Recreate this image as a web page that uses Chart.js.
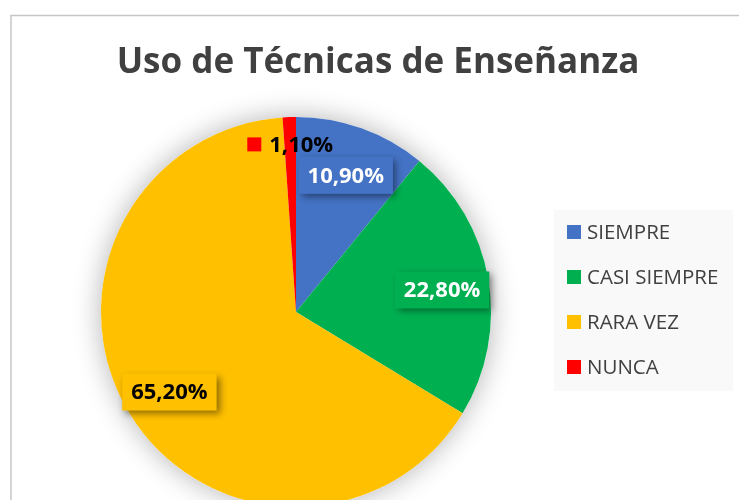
<!DOCTYPE html>
<html>
<head>
<meta charset="utf-8">
<script src="https://cdn.jsdelivr.net/npm/chart.js@4.4.1/dist/chart.umd.min.js"></script>
<style>
    html, body { margin: 0; padding: 0; background: #fff; overflow: hidden; }
    #wrap { position: relative; width: 739px; height: 500px; overflow: hidden; }
    canvas { display: block; }
</style>
</head>
<body>
<div id="wrap"><canvas id="pieChart" width="739" height="520"></canvas></div>
<script>
const chartTitle = 'Uso de Técnicas de Enseñanza';
const categories = ['SIEMPRE', 'CASI SIEMPRE', 'RARA VEZ', 'NUNCA'];
const percentages = [10.9, 22.8, 65.2, 1.1];
const sliceColors = ['#4472C4', '#00B050', '#FFC000', '#FF0000'];
const labelColors = ['#ffffff', '#ffffff', '#000000', '#000000'];

function formatPct(v) {
    return v.toFixed(2).replace('.', ',') + '%';
}

// white background + thin frame like the spreadsheet chart box
const framePlugin = {
    id: 'frame',
    beforeDraw(chart) {
        const ctx = chart.ctx;
        ctx.save();
        ctx.fillStyle = '#ffffff';
        ctx.fillRect(0, 0, chart.width, chart.height);
        ctx.strokeStyle = '#c6c6c6';
        ctx.lineWidth = 1.5;
        ctx.beginPath();
        ctx.moveTo(11, chart.height);
        ctx.lineTo(11, 15.5);
        ctx.lineTo(chart.width, 15.5);
        ctx.stroke();
        ctx.restore();
    }
};

const titlePlugin = {
    id: 'bigTitle',
    afterDraw(chart) {
        const ctx = chart.ctx;
        ctx.save();
        ctx.font = 'bold 35px "Open Sans"';
        ctx.fillStyle = '#404040';
        ctx.textAlign = 'center';
        ctx.textBaseline = 'middle';
        ctx.fillText(chartTitle, 378, 63);
        ctx.restore();
    }
};

// soft glow under the pie
const pieShadow = {
    id: 'pieShadow',
    beforeDatasetsDraw(chart) {
        const arc = chart.getDatasetMeta(0).data[0];
        if (!arc) return;
        const ctx = chart.ctx;
        ctx.save();
        ctx.shadowColor = 'rgba(0,0,0,0.3)';
        ctx.shadowBlur = 28;
        ctx.fillStyle = '#ffffff';
        ctx.beginPath();
        ctx.arc(arc.x, arc.y, arc.outerRadius, 0, Math.PI * 2);
        ctx.fill();
        ctx.restore();
    }
};

const pctLabels = {
    id: 'pctLabels',
    afterDatasetsDraw(chart) {
        const ctx = chart.ctx;
        const meta = chart.getDatasetMeta(0);
        ctx.save();
        ctx.font = 'bold 22px "Open Sans"';
        ctx.textBaseline = 'middle';
        meta.data.forEach((arc, i) => {
            const mid = (arc.startAngle + arc.endAngle) / 2;
            const txt = formatPct(percentages[i]);
            const tw = ctx.measureText(txt).width;
            if (percentages[i] < 5) {
                // tiny slice: label outside the wedge with its colour key
                const r = arc.outerRadius * 0.86;
                const cx = arc.x + Math.cos(mid) * r;
                const cy = arc.y + Math.sin(mid) * r;
                const total = 14 + 8 + tw;
                const left = cx - total / 2;
                ctx.fillStyle = sliceColors[i];
                ctx.fillRect(left, cy - 7, 14, 14);
                ctx.fillStyle = labelColors[i];
                ctx.textAlign = 'left';
                ctx.fillText(txt, left + 22, cy + 1);
                return;
            }
            const r = arc.outerRadius * 0.76;
            const cx = arc.x + Math.cos(mid) * r;
            const cy = arc.y + Math.sin(mid) * r + 3;
            const bw = tw + 18, bh = 37;
            ctx.save();
            ctx.shadowColor = 'rgba(0,0,0,0.45)';
            ctx.shadowBlur = 7;
            ctx.shadowOffsetX = 3;
            ctx.shadowOffsetY = 3;
            ctx.fillStyle = sliceColors[i];
            ctx.fillRect(cx - bw / 2, cy - bh / 2, bw, bh);
            ctx.restore();
            ctx.fillStyle = labelColors[i];
            ctx.textAlign = 'center';
            ctx.fillText(txt, cx, cy + 1);
        });
        ctx.restore();
    }
};

const sideLegend = {
    id: 'sideLegend',
    afterDraw(chart) {
        const ctx = chart.ctx;
        ctx.save();
        ctx.fillStyle = '#f9f9f9';
        ctx.fillRect(554, 210, 179, 181);
        ctx.font = '20.5px "Open Sans"';
        ctx.textBaseline = 'middle';
        ctx.textAlign = 'left';
        categories.forEach((name, i) => {
            const y = 232 + i * 45;
            ctx.fillStyle = sliceColors[i];
            ctx.fillRect(567, y - 7, 14, 14);
            ctx.fillStyle = '#404040';
            ctx.fillText(name, 587, y + 1);
        });
        ctx.restore();
    }
};

new Chart(document.getElementById('pieChart'), {
    type: 'pie',
    data: {
        labels: categories,
        datasets: [{
            data: percentages,
            backgroundColor: sliceColors,
            borderWidth: 0
        }]
    },
    options: {
        responsive: false,
        animation: false,
        layout: { padding: { left: 101, right: 248, top: 117, bottom: 13 } },
        plugins: {
            legend: { display: false },
            title: { display: false },
            tooltip: { enabled: false }
        }
    },
    plugins: [framePlugin, pieShadow, pctLabels, titlePlugin, sideLegend]
});
</script>
</body>
</html>
